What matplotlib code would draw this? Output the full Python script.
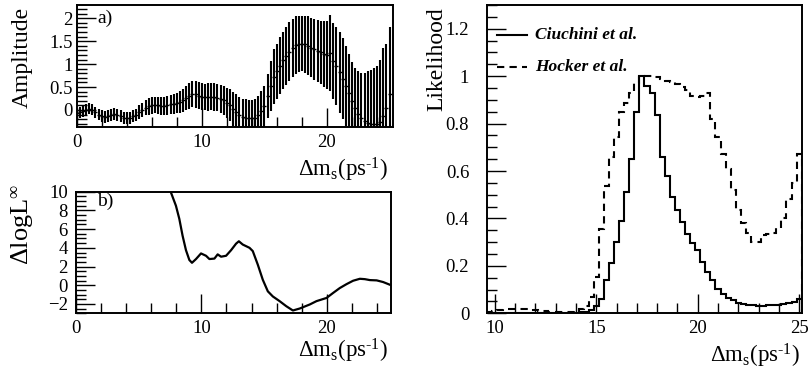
import numpy as np
import matplotlib
matplotlib.use("Agg")
import matplotlib.pyplot as plt
from matplotlib.ticker import MultipleLocator

plt.rcParams['font.family'] = ['Liberation Serif', 'DejaVu Serif']
plt.rcParams['mathtext.fontset'] = 'custom'
plt.rcParams['mathtext.rm'] = 'Liberation Serif'
plt.rcParams['mathtext.it'] = 'Liberation Serif:italic'

# a) amplitude scan, points every 0.25 ps^-1 from 0 to 25
amp_step = 0.25
amplitude = [-0.07, -0.05, -0.03, 0.00, 0.03, 0.01, -0.05, -0.10,
             -0.14, -0.15, -0.13, -0.11, -0.09, -0.10, -0.13, -0.17,
             -0.18, -0.17, -0.14, -0.10, -0.05, 0.00, 0.05, 0.08,
             0.10, 0.11, 0.10, 0.09, 0.09, 0.10, 0.12, 0.13,
             0.15, 0.17, 0.21, 0.26, 0.31, 0.35, 0.34, 0.31,
             0.29, 0.28, 0.28, 0.29, 0.28, 0.27, 0.24, 0.21,
             0.16, 0.10, 0.03, -0.04, -0.11, -0.15, -0.17, -0.18,
             -0.18, -0.18, -0.12, -0.03, 0.08, 0.30, 0.52, 0.72,
             0.85, 0.97, 1.08, 1.18, 1.27, 1.35, 1.41, 1.44,
             1.45, 1.43, 1.40, 1.36, 1.32, 1.29, 1.26, 1.23,
             1.20, 1.24, 1.07, 0.95, 0.82, 0.68, 0.52, 0.36,
             0.20, 0.05, -0.08, -0.18, -0.25, -0.29, -0.31, -0.31,
             -0.31, -0.26, -0.13, 0.05, 0.35]
amp_err = [0.12, 0.12, 0.12, 0.12, 0.12, 0.12, 0.12, 0.12,
           0.13, 0.13, 0.13, 0.13, 0.13, 0.13, 0.13, 0.13,
           0.13, 0.13, 0.13, 0.13, 0.15, 0.16, 0.17, 0.18,
           0.18, 0.18, 0.19, 0.19, 0.19, 0.20, 0.20, 0.21,
           0.22, 0.24, 0.25, 0.27, 0.28, 0.29, 0.29, 0.29,
           0.29, 0.29, 0.30, 0.30, 0.30, 0.30, 0.31, 0.32,
           0.33, 0.35, 0.37, 0.38, 0.39, 0.40, 0.40, 0.40,
           0.40, 0.41, 0.42, 0.44, 0.45, 0.48, 0.55, 0.60,
           0.60, 0.62, 0.63, 0.64, 0.64, 0.64, 0.63, 0.61,
           0.61, 0.63, 0.64, 0.65, 0.66, 0.67, 0.69, 0.72,
           0.75, 0.83, 0.83, 0.85, 0.88, 0.88, 0.87, 0.86,
           0.85, 0.87, 0.92, 0.98, 1.06, 1.13, 1.18, 1.22,
           1.27, 1.35, 1.48, 1.40, 1.45]
amp_x = np.arange(len(amplitude)) * amp_step

# b) delta log likelihood
dll_x = [7.55, 7.97, 8.24, 8.5, 8.77, 9.04, 9.25, 9.57, 9.97, 10.37, 10.64,
         11.04, 11.3, 11.57, 11.97, 12.37, 12.77, 12.99, 13.3, 13.84, 14.1,
         14.5, 14.9, 15.3, 15.7, 16.24, 16.77, 17.3, 17.84, 18.1, 18.64,
         19.18, 19.98, 20.5, 21.04, 21.58, 22.1, 22.64, 23.04, 23.44, 23.98,
         24.5, 25.04]
dll_y = [10.0, 8.5, 7.1, 5.3, 3.75, 2.7, 2.4, 2.8, 3.4, 3.15, 2.8,
         2.85, 3.3, 3.05, 3.15, 3.75, 4.45, 4.7, 4.35, 4.0, 3.65,
         2.2, 0.58, -0.65, -1.2, -1.7, -2.24, -2.7, -2.49, -2.35, -2.06,
         -1.7, -1.36, -0.83, -0.3, 0.12, 0.48, 0.69, 0.65, 0.55, 0.52,
         0.34, 0.05]

# likelihood histograms, 0.25 wide bins from 9.625 to 25.125
bin_lo, bin_w = 9.625, 0.25
ciuchini = [0.003, 0.003, 0.003, 0.003, 0.003, 0.003, 0.003, 0.003, 0.003, 0.003,
            0.003, 0.003, 0.003, 0.003, 0.003, 0.003, 0.003, 0.003, 0.004, 0.005,
            0.012, 0.03, 0.062, 0.14, 0.21, 0.30, 0.39, 0.51, 0.65, 0.85,
            1.0, 0.96, 0.93, 0.835, 0.66, 0.58, 0.49, 0.435, 0.385, 0.336,
            0.297, 0.266, 0.216, 0.174, 0.139, 0.104, 0.083, 0.066, 0.055, 0.045,
            0.038, 0.034, 0.033, 0.032, 0.032, 0.033, 0.033, 0.034, 0.038, 0.042,
            0.048, 0.06]
hocker = [0.005, 0.01, 0.015, 0.018, 0.018, 0.017, 0.02, 0.02, 0.018, 0.015,
          0.01, 0.008, 0.006, 0.005, 0.005, 0.005, 0.006, 0.01, 0.02, 0.03,
          0.07, 0.155, 0.355, 0.535, 0.66, 0.745, 0.85, 0.885, 0.93, 0.97,
          1.0, 1.0, 1.0, 0.995, 0.99, 0.98, 0.975, 0.965, 0.955, 0.94,
          0.915, 0.91, 0.915, 0.93, 0.82, 0.745, 0.67, 0.61, 0.52, 0.435,
          0.38, 0.337, 0.30, 0.30, 0.33, 0.335, 0.34, 0.36, 0.40, 0.48,
          0.55, 0.67]
edges = bin_lo + bin_w * np.arange(len(ciuchini) + 1)

W, H = 811, 372
fig = plt.figure(figsize=(W / 100, H / 100), dpi=100)


def px_axes(l, t, r, b):
    return fig.add_axes([l / W, 1 - b / H, (r - l) / W, (b - t) / H])


def style(ax, xmaj, xmin, ymaj, ymin, ypad):
    ax.xaxis.set_major_locator(MultipleLocator(xmaj))
    ax.xaxis.set_minor_locator(MultipleLocator(xmin))
    ax.yaxis.set_major_locator(MultipleLocator(ymaj))
    ax.yaxis.set_minor_locator(MultipleLocator(ymin))
    ax.tick_params(which='both', direction='in', top=False, right=False,
                   width=1.0, labelsize=13.5)
    ax.tick_params(which='major', length=14)
    ax.tick_params(which='minor', length=7)
    ax.tick_params(axis='x', pad=5)
    ax.tick_params(axis='y', pad=ypad)
    for s in ax.spines.values():
        s.set_linewidth(1.4)


xlab = r'$\Delta$m$_{\rm s}$(ps$^{\text{-1}}$)'

# panel a
ax1 = px_axes(76.7, 5, 392.7, 126.7)
ax1.errorbar(amp_x, amplitude, yerr=amp_err, fmt='_', color='black',
             ms=2.5, mew=1.0, elinewidth=1.5, capsize=0)
ax1.set_xlim(0, 25.25)
ax1.set_ylim(-0.365, 2.29)
style(ax1, 10, 2, 0.5, 0.1, 3)
ax1.set_yticks([0, 0.5, 1, 1.5, 2])
ax1.set_yticklabels(['0', '0.5', '1', '1.5', '2'])
ax1.text(0.064, 0.96, 'a)', transform=ax1.transAxes, fontsize=14, va='top')
ax1.text(0.985, -0.413, xlab, transform=ax1.transAxes, fontsize=16.5,
         ha='right', va='baseline')
ax1.text(-0.205, 0.985, 'Amplitude', transform=ax1.transAxes, fontsize=17,
         rotation=90, ha='left', va='top')

# panel b
ax2 = px_axes(76, 191.7, 390.7, 313.3)
ax2.plot(dll_x, dll_y, color='black', lw=1.6)
ax2.set_xlim(0, 25.1)
ax2.set_ylim(-3, 10)
style(ax2, 10, 2, 2, 0.5, 6)
ax2.text(0.067, 0.99, 'b)', transform=ax2.transAxes, fontsize=14, va='top')
ax2.text(0.991, -0.36, xlab, transform=ax2.transAxes, fontsize=16.5,
         ha='right', va='baseline')
ax2.text(-0.21, 1.07, r'$\Delta$logL$^{\infty}$', transform=ax2.transAxes,
         fontsize=19, rotation=90, ha='left', va='top')

# likelihood panel
ax3 = px_axes(487.3, 5, 801.7, 313.3)
ax3.stairs(ciuchini, edges, color='black', lw=1.5)
ax3.stairs(hocker, edges, color='black', lw=1.5, linestyle=(0, (3.5, 2.5)))
ax3.set_xlim(bin_lo, edges[-1])
ax3.set_ylim(0, 1.3)
style(ax3, 5, 1, 0.2, 0.05, 13)
ax3.set_yticks([0, 0.2, 0.4, 0.6, 0.8, 1, 1.2])
ax3.set_yticklabels(['0', '0.2', '0.4', '0.6', '0.8', '1', '1.2'])
ax3.text(0.995, -0.161, xlab, transform=ax3.transAxes, fontsize=16.5,
         ha='right', va='baseline')
ax3.text(-0.195, 0.994, 'Likelihood', transform=ax3.transAxes, fontsize=17,
         rotation=90, ha='left', va='top')

# legend drawn by hand, ROOT style
ax3.plot([0.031, 0.126], [0.903, 0.903], transform=ax3.transAxes,
         color='black', lw=1.5)
ax3.plot([0.031, 0.126], [0.799, 0.799], transform=ax3.transAxes,
         color='black', lw=1.5, linestyle=(0, (3.5, 2.5)))
ax3.text(0.152, 0.903, 'Ciuchini et al.', transform=ax3.transAxes,
         fontsize=12.5, fontweight='bold', fontstyle='italic', va='center')
ax3.text(0.152, 0.799, 'Hocker et al.', transform=ax3.transAxes,
         fontsize=12.5, fontweight='bold', fontstyle='italic', va='center')

fig.savefig('out.png', dpi=100)
